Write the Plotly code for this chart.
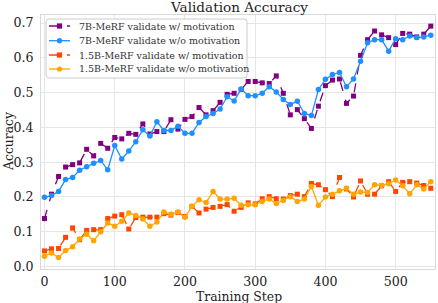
import plotly.graph_objects as go

steps = [0, 10, 20, 30, 40, 50, 60, 70, 80, 90, 100, 110, 120, 130, 140, 150, 160, 170, 180, 190,
         200, 210, 220, 230, 240, 250, 260, 270, 280, 290, 300, 310, 320, 330, 340, 350, 360, 370, 380, 390,
         400, 410, 420, 430, 440, 450, 460, 470, 480, 490, 500, 510, 520, 530, 540, 550]

acc_7b_w = [0.138, 0.208, 0.259, 0.286, 0.293, 0.298, 0.337, 0.318, 0.354, 0.340,
            0.371, 0.367, 0.383, 0.380, 0.410, 0.381, 0.388, 0.388, 0.422, 0.395,
            0.423, 0.431, 0.457, 0.436, 0.448, 0.472, 0.495, 0.498, 0.509, 0.532,
            0.532, 0.528, 0.526, 0.548, 0.498, 0.436, 0.451, 0.425, 0.397, 0.461,
            0.520, 0.536, 0.539, 0.469, 0.490, 0.607, 0.652, 0.677, 0.666, 0.658,
            0.638, 0.670, 0.668, 0.660, 0.668, 0.691]

acc_7b_wo = [0.199, 0.204, 0.216, 0.250, 0.256, 0.277, 0.287, 0.297, 0.305, 0.278,
             0.348, 0.309, 0.332, 0.359, 0.393, 0.375, 0.416, 0.391, 0.391, 0.403,
             0.383, 0.383, 0.414, 0.431, 0.440, 0.453, 0.488, 0.476, 0.510, 0.491,
             0.491, 0.498, 0.517, 0.502, 0.480, 0.466, 0.475, 0.440, 0.434, 0.509,
             0.538, 0.552, 0.558, 0.517, 0.539, 0.590, 0.643, 0.652, 0.652, 0.619,
             0.655, 0.652, 0.663, 0.658, 0.660, 0.665]

acc_15b_w = [0.045, 0.051, 0.052, 0.084, 0.111, 0.077, 0.104, 0.106, 0.106, 0.138,
             0.145, 0.149, 0.108, 0.141, 0.142, 0.142, 0.142, 0.152, 0.148, 0.155,
             0.144, 0.173, 0.154, 0.165, 0.170, 0.173, 0.178, 0.159, 0.170, 0.183,
             0.180, 0.195, 0.201, 0.195, 0.194, 0.204, 0.208, 0.201, 0.239, 0.235,
             0.221, 0.201, 0.256, 0.223, 0.200, 0.246, 0.208, 0.208, 0.232, 0.244,
             0.216, 0.242, 0.244, 0.240, 0.233, 0.225]

acc_15b_wo = [0.030, 0.039, 0.026, 0.046, 0.057, 0.079, 0.093, 0.074, 0.100, 0.125,
              0.116, 0.130, 0.154, 0.147, 0.137, 0.116, 0.128, 0.157, 0.150, 0.157,
              0.142, 0.173, 0.192, 0.184, 0.216, 0.194, 0.194, 0.196, 0.176, 0.178,
              0.178, 0.187, 0.194, 0.181, 0.190, 0.201, 0.187, 0.194, 0.230, 0.176,
              0.200, 0.208, 0.218, 0.225, 0.208, 0.214, 0.213, 0.235, 0.233, 0.238,
              0.249, 0.232, 0.209, 0.235, 0.223, 0.244]

x_ticks = [0, 100, 200, 300, 400, 500]
y_ticks = [0.0, 0.1, 0.2, 0.3, 0.4, 0.5, 0.6, 0.7]

series = [
    ("7B-MeRF validate w/ motivation", acc_7b_w, "#800080", "dash", "square"),
    ("7B-MeRF validate w/o motivation", acc_7b_wo, "#1E90FF", "solid", "circle"),
    ("1.5B-MeRF validate w/ motivation", acc_15b_w, "#FF4500", "dash", "square"),
    ("1.5B-MeRF validate w/o motivation", acc_15b_wo, "#FFA500", "solid", "circle"),
]

FONT = "DejaVu Serif"
W, H = 438, 303
ML, MR, MT, MB = 41, 3, 15, 34
PW, PH = W - ML - MR, H - MT - MB


def px(xp):
    return (xp - ML) / PW


def py(yp):
    return (H - MB - yp) / PH


fig = go.Figure()
for name, vals, color, dash, sym in series:
    fig.add_trace(go.Scatter(
        x=steps, y=vals, name=name, mode="lines+markers", showlegend=False,
        line=dict(color=color, width=1.3, dash=dash),
        marker=dict(symbol=sym, size=5.5 if sym == "circle" else 5, color=color,
                    line=dict(width=0)),
    ))

shapes = []
annotations = []

# legend box with rounded corners
x0, x1, y0, y1, r = 46, 247, 19, 78, 3
rx, ry = r / PW, r / PH
path = (f"M {px(x0)+rx} {py(y0)} L {px(x1)-rx} {py(y0)} Q {px(x1)} {py(y0)} {px(x1)} {py(y0)-ry} "
        f"L {px(x1)} {py(y1)+ry} Q {px(x1)} {py(y1)} {px(x1)-rx} {py(y1)} "
        f"L {px(x0)+rx} {py(y1)} Q {px(x0)} {py(y1)} {px(x0)} {py(y1)+ry} "
        f"L {px(x0)} {py(y0)-ry} Q {px(x0)} {py(y0)} {px(x0)+rx} {py(y0)} Z")
shapes.append(dict(type="path", xref="paper", yref="paper", path=path,
                   line=dict(color="#cccccc", width=1), fillcolor="rgba(255,255,255,0.85)",
                   layer="above"))

row_y = [26, 40.7, 55, 69]
for (name, vals, color, dash, sym), yy in zip(series, row_y):
    shapes.append(dict(type="line", xref="paper", yref="paper",
                       x0=px(49), x1=px(70), y0=py(yy), y1=py(yy),
                       line=dict(color=color, width=1.3, dash="dash" if dash == "dash" else "solid")))
    s = 2.6
    shapes.append(dict(type="rect" if sym == "square" else "circle", xref="paper", yref="paper",
                       x0=px(59.5 - s), x1=px(59.5 + s), y0=py(yy - s), y1=py(yy + s),
                       fillcolor=color, line=dict(width=0)))
    annotations.append(dict(text=name, xref="paper", yref="paper", x=px(77), y=py(yy),
                            xanchor="left", yanchor="middle", showarrow=False,
                            font=dict(family=FONT, size=9.5, color="#333333")))

annotations.append(dict(text="Training Step", xref="paper", yref="paper", x=px(239), y=py(296),
                        xanchor="center", yanchor="middle", showarrow=False,
                        font=dict(family=FONT, size=12.4, color="#222222")))
annotations.append(dict(text="Accuracy", xref="paper", yref="paper", x=px(8), y=py(142),
                        xanchor="center", yanchor="middle", showarrow=False, textangle=-90,
                        font=dict(family=FONT, size=12.4, color="#222222")))
annotations.append(dict(text="Validation Accuracy", xref="paper", yref="paper", x=px(239), y=py(7),
                        xanchor="center", yanchor="middle", showarrow=False,
                        font=dict(family=FONT, size=13.6, color="#222222")))

fig.update_layout(
    width=W, height=H,
    margin=dict(l=ML, r=MR, t=MT, b=MB, autoexpand=False),
    paper_bgcolor="white", plot_bgcolor="white",
    font=dict(family=FONT, color="#222222"),
    showlegend=False, hovermode=False,
    shapes=shapes, annotations=annotations,
)
fig.update_xaxes(
    range=[-5, 556], tickvals=x_ticks, automargin=False,
    showgrid=True, gridcolor="#e6e6e6", gridwidth=1, zeroline=False,
    showline=True, linecolor="#d9d9d9", linewidth=1, mirror=True,
    ticks="", ticklabelstandoff=1,
    tickfont=dict(family=FONT, size=12.6, color="#222222"),
)
fig.update_yaxes(
    range=[-0.007, 0.723], tickvals=y_ticks, tickformat=".1f", automargin=False,
    showgrid=True, gridcolor="#e6e6e6", gridwidth=1, zeroline=False,
    showline=True, linecolor="#d9d9d9", linewidth=1, mirror=True,
    ticks="", ticklabelstandoff=4,
    tickfont=dict(family=FONT, size=12.6, color="#222222"),
)

fig.write_html("out.html", config={"displayModeBar": False, "staticPlot": True},
               post_script="document.body.style.margin='0';document.body.style.padding='0';")
